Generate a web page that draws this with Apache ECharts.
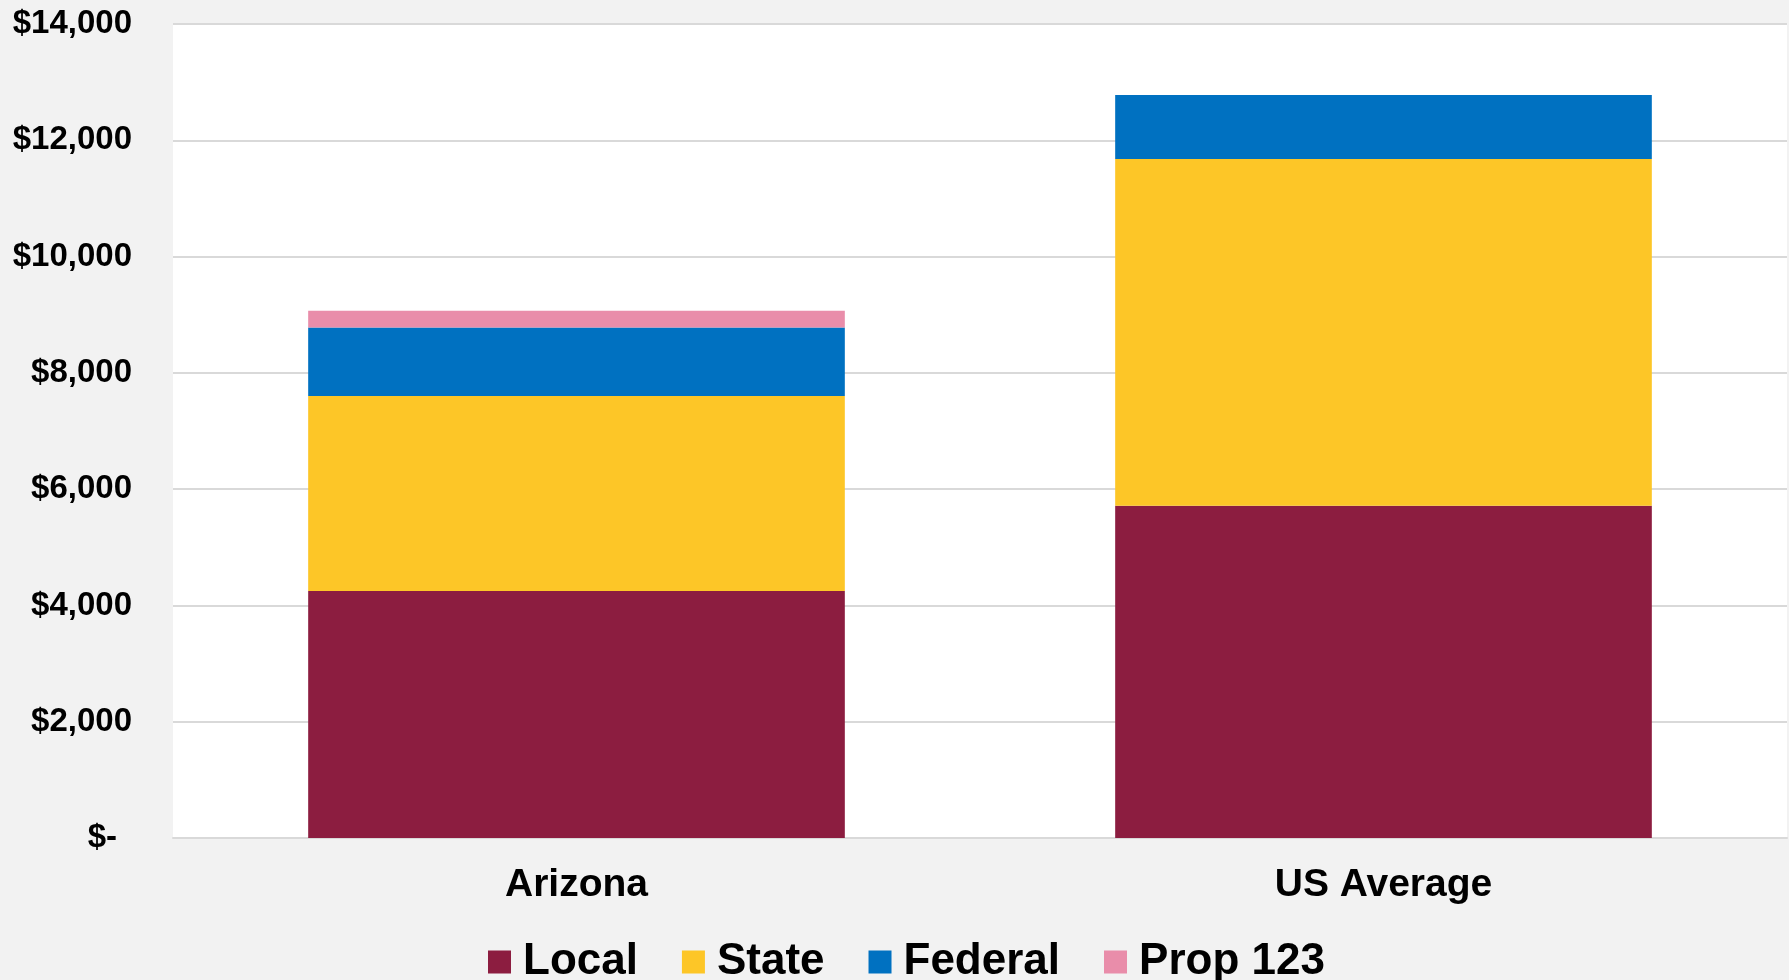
<!DOCTYPE html>
<html>
<head>
<meta charset="utf-8">
<script src="https://cdn.jsdelivr.net/npm/echarts@6/dist/echarts.min.js"></script>
<style>
  html, body { margin: 0; padding: 0; background: #f2f2f2; }
  #chart { width: 1789px; height: 980px; }
</style>
</head>
<body>
<div id="chart"></div>
<script>
// per-pupil funding by source
const categories = ["Arizona", "US Average"];
const localValues = [4250, 5715];
const stateValues = [3350, 5965];
const federalValues = [1180, 1100];
const prop123Values = [290, 0];

const yTicks = { min: 0, max: 14000, step: 2000 };

const font = "'Liberation Sans', Arial, sans-serif";

const chart = echarts.init(document.getElementById("chart"));

function makeSeries(name, data, color) {
  return {
    name: name,
    type: "bar",
    stack: "total",
    barWidth: "66.5%",
    data: data,
    itemStyle: { color: color },
    emphasis: { disabled: true }
  };
}

chart.setOption({
  backgroundColor: "#f2f2f2",
  animation: false,
  grid: {
    left: 173,
    right: 2,
    top: 24,
    bottom: 142,
    show: true,
    backgroundColor: "#ffffff",
    borderWidth: 0
  },
  legend: {
    top: 935,
    left: 483,
    itemWidth: 23,
    itemHeight: 23,
    itemGap: 44,
    icon: "rect",
    textStyle: {
      fontFamily: font,
      fontWeight: "bold",
      fontSize: 44,
      color: "#000",
      padding: [0, 0, 0, 7]
    },
    data: ["Local", "State", "Federal", "Prop 123"]
  },
  xAxis: {
    type: "category",
    data: categories,
    axisLine: { lineStyle: { color: "#d9d9d9", width: 2 } },
    axisTick: { show: false },
    axisLabel: {
      margin: 28,
      fontFamily: font,
      fontWeight: "bold",
      fontSize: 39,
      color: "#000"
    }
  },
  yAxis: {
    type: "value",
    min: yTicks.min,
    max: yTicks.max,
    interval: yTicks.step,
    axisLine: { show: false },
    axisTick: { show: false },
    splitLine: { lineStyle: { color: "#d9d9d9", width: 2 } },
    axisLabel: {
      margin: 41,
      fontFamily: font,
      fontWeight: "bold",
      fontSize: 33,
      color: "#000",
      formatter: function (v) {
        if (v === 0) return "{z|$-}";
        return "$" + v.toLocaleString("en-US");
      },
      rich: {
        z: {
          fontFamily: font,
          fontWeight: "bold",
          fontSize: 33,
          color: "#000",
          padding: [0, 15, 0, 0]
        }
      }
    }
  },
  series: [
    makeSeries("Local", localValues, "#8c1d40"),
    makeSeries("State", stateValues, "#fdc627"),
    makeSeries("Federal", federalValues, "#0071c1"),
    makeSeries("Prop 123", prop123Values, "#e98daa")
  ]
});
</script>
</body>
</html>
